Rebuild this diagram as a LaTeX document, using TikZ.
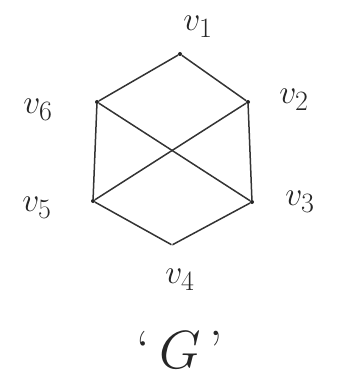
\documentclass[tikz,border=0pt]{standalone}
\begin{document}
\begin{tikzpicture}[x=1pt,y=-1pt,
  vtx/.style={circle,fill=black!85,inner sep=0pt,minimum size=4pt},
  lbl/.style={font=\Huge,scale=1.35,text=black!85},
  edge/.style={draw=black!80,line width=1.5pt}]
\useasboundingbox (0,0) rectangle (350,390);
\node[vtx] (v1) at (180,54) {};
\node[vtx] (v2) at (248,102) {};
\node[vtx] (v3) at (252,202) {};
\node[vtx,minimum size=1pt] (v4) at (172,245) {};
\node[vtx] (v5) at (93,201) {};
\node[vtx] (v6) at (97,102) {};
\node[lbl] (l1) at (198,27) {$v_1$};
\node[lbl] (l2) at (294,100) {$v_2$};
\node[lbl] (l3) at (300,202) {$v_3$};
\node[lbl] (l4) at (180,280) {$v_4$};
\node[lbl] (l5) at (37,208) {$v_5$};
\node[lbl] (l6) at (38,110) {$v_6$};
\node[lbl,scale=1.6] (g) at (180,350) {`\,$G$\,'};
\draw[edge] (v1) -- (v2) -- (v3) -- (v4) -- (v5) -- (v6) -- (v1);
\draw[edge] (v6) -- (v3);
\draw[edge] (v2) -- (v5);
\end{tikzpicture}
\end{document}
